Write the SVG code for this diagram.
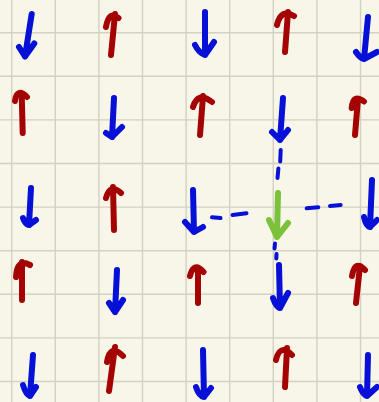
<svg xmlns="http://www.w3.org/2000/svg" width="379" height="402" viewBox="0 0 379 402">
<style>
.grid line{stroke:#d3d1c2;stroke-width:1.4}
.a path{fill:none;stroke-width:6;stroke-linecap:round;stroke-linejoin:round}
.b path{stroke:#0610d6}
.r path{stroke:#a50303}
.g path{stroke:#7cc13a}
#connectors line{stroke:#0610d6;stroke-width:4;stroke-linecap:round}
</style>
<rect width="379" height="402" fill="#f8f5e9"/>
<g class="grid">
<line x1="11.7" y1="0" x2="11.7" y2="402"/>
<line x1="55.3" y1="0" x2="55.3" y2="402"/>
<line x1="98.9" y1="0" x2="98.9" y2="402"/>
<line x1="142.5" y1="0" x2="142.5" y2="402"/>
<line x1="186.1" y1="0" x2="186.1" y2="402"/>
<line x1="229.7" y1="0" x2="229.7" y2="402"/>
<line x1="273.3" y1="0" x2="273.3" y2="402"/>
<line x1="316.9" y1="0" x2="316.9" y2="402"/>
<line x1="360.5" y1="0" x2="360.5" y2="402"/>
<line x1="0" y1="32.7" x2="379" y2="32.7"/>
<line x1="0" y1="76.3" x2="379" y2="76.3"/>
<line x1="0" y1="119.9" x2="379" y2="119.9"/>
<line x1="0" y1="163.5" x2="379" y2="163.5"/>
<line x1="0" y1="207.1" x2="379" y2="207.1"/>
<line x1="0" y1="250.7" x2="379" y2="250.7"/>
<line x1="0" y1="294.3" x2="379" y2="294.3"/>
<line x1="0" y1="337.9" x2="379" y2="337.9"/>
<line x1="0" y1="381.5" x2="379" y2="381.5"/>
</g>
<g id="connectors">
<line x1="280.7" y1="150" x2="280.2" y2="161.5"/>
<line x1="278.4" y1="168.5" x2="277.5" y2="178"/>
<line x1="275" y1="243.5" x2="274.5" y2="248.5"/>
<line x1="276.5" y1="254" x2="276.3" y2="258.5"/>
<line x1="212" y1="217.3" x2="220.5" y2="218"/>
<line x1="232.5" y1="215" x2="246.5" y2="213.3"/>
<line x1="306.7" y1="208.3" x2="318.3" y2="207.3"/>
<line x1="330" y1="206" x2="340.7" y2="205"/>
</g>
<g id="a11" class="a b"><path d="M31.7,14 L25,56.5 M19,47 L25,56.5 L34.3,43.5"/></g>
<g id="a12" class="a r"><path d="M111,55 L115,14 M106,27 Q109,10 118.5,18"/></g>
<g id="a13" class="a b"><path d="M205,12 L205,55 M195,45 Q199,53 205,55 L214,42"/></g>
<g id="a14" class="a r"><path d="M285,52 L288,12 M277,25 Q281,8 294,16"/></g>
<g id="a15" class="a b"><path d="M368,17 L364,59 M356,52 Q360,58 364,59 L377,52"/></g>
<g id="a21" class="a r"><path d="M22.7,133 L21.7,94 M15,101 Q17,87 27,97"/></g>
<g id="a22" class="a b"><path d="M114,98 L112,137 M106,133 L112,137 L122,127"/></g>
<g id="a23" class="a r"><path d="M200,135 L203,96 M193,107 Q198,91 212,102"/></g>
<g id="a24" class="a b"><path d="M283,98 L280,140 M272,132 L280,140 L288,130"/></g>
<g id="a25" class="a r"><path d="M355,135 L358,99 M351.7,108 Q353,93 364,101.5"/></g>
<g id="a31" class="a b"><path d="M31,188 L29,225 M23,218 Q25,224 29,225 L36,220"/></g>
<g id="a32" class="a r"><path d="M114,230 L113,187 M106,198 Q110,183 121,193"/></g>
<g id="a33" class="a b"><path d="M193,190 L194,232 M185,222 L194,232 L203,227"/></g>
<g id="a34" class="a g"><path d="M278,193 L277,237 M269,220 L277,237 L288,223"/></g>
<g id="a35" class="a b"><path d="M372,180 L370,227 M364,217 Q366,226 370,227 L377,220"/></g>
<g id="a41" class="a r"><path d="M22,300 L22,262 M16,277 Q17,258 30,265"/></g>
<g id="a42" class="a b"><path d="M117,270 L115,312 M109,303 L115,312 L123,300"/></g>
<g id="a43" class="a r"><path d="M198,303 L198,270 M190,276 Q194,261 203.5,272"/></g>
<g id="a44" class="a b"><path d="M279,265 L280,308 M273,298 Q276,307 280,308 L288,293"/></g>
<g id="a45" class="a r"><path d="M356,303 L360,266 M352,276 Q355,259 365,270"/></g>
<g id="a51" class="a b"><path d="M33,355 L30,396 M23,385 Q26,395 30,396 L36,387"/></g>
<g id="a52" class="a r"><path d="M109,391 L115,347 M107,362 Q110,343 123,356"/></g>
<g id="a53" class="a b"><path d="M203,350 L204,397 M196,387 Q199,396 204,397 L211,388"/></g>
<g id="a54" class="a r"><path d="M285,387 L287,348 M276,360 Q280,343 292,355"/></g>
<g id="a55" class="a b"><path d="M368,355 L367,396 M360,387 Q363,395 367,396 L377,387"/></g>
</svg>
